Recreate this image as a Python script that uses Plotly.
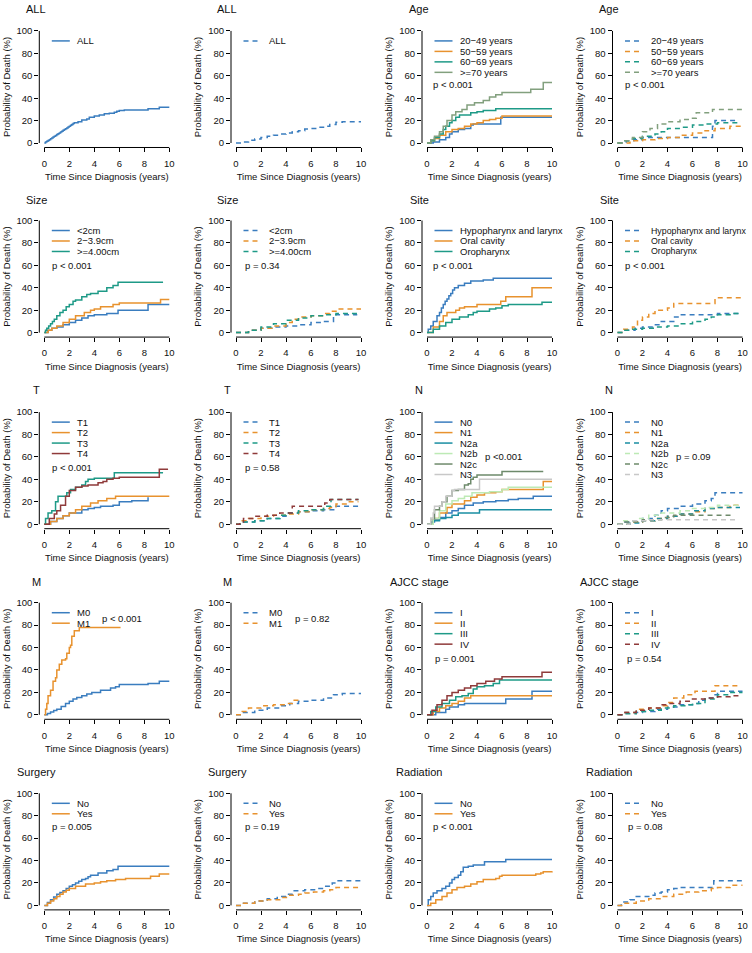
import plotly.graph_objects as go

# ---------------- data: (time in years, cumulative probability of death %) ----------------
all_cs = {"ALL": [(0,0),(0.1,0.8),(0.2,1.5),(0.3,2.3),(0.4,3),(0.5,3.8),(0.6,4.5),(0.7,5.3),(0.8,6),(0.9,6.8),(1.0,7.5),(1.1,8.3),(1.2,9),(1.3,9.8),(1.4,10.5),(1.5,11.3),(1.6,12),(1.7,12.8),(1.8,13.5),(1.9,14.3),(2.0,15),(2.1,15.8),(2.2,16.5),(2.3,17.3),(2.4,18),(2.7,19),(3.0,20.5),(3.4,21.5),(3.6,23),(4.0,24),(4.4,25),(4.8,26),(5.2,26.5),(5.6,27.5),(5.8,28.3),(6.0,29),(6.4,29.5),(8.3,30.5),(9.2,32),(10,32)]}
all_oc = {"ALL": [(0,0),(0.5,1),(1,2.5),(1.5,3.5),(2,5),(2.5,6),(3,7),(3.5,8),(4,9),(4.5,10),(5,11),(5.5,12.5),(6,13),(6.5,14),(7,15),(7.5,16.5),(8,18.5),(8.5,19),(10,19)]}

age_cs = {
    "20\u221249 years": [(0,0),(0.5,1),(1.0,3),(1.5,5),(1.8,8),(2.0,10),(2.5,12),(3.0,13),(3.5,16),(3.7,17),(5.9,23),(10,23)],
    "50\u221259 years": [(0,0),(0.3,2),(0.6,4),(1,7),(1.5,10),(2.0,12),(2.5,13),(3.0,15),(3.5,17),(4.0,18),(4.5,20),(5.0,21),(5.5,22),(6.0,24),(10,24)],
    "60\u221269 years": [(0,0),(0.3,2),(0.6,5),(1.0,8),(1.3,12),(1.5,15),(1.8,18),(2.0,20),(2.3,23),(2.6,25),(3.5,27),(4.0,28),(4.5,29),(5.5,30.5),(10,30.5)],
    ">=70 years": [(0,0),(0.3,3),(0.6,6),(1.0,10),(1.3,15),(1.6,20),(2.0,25),(2.3,28),(2.8,30),(3.2,34),(3.8,36),(4.5,38),(5.0,41),(5.5,43),(6.0,45),(8.3,48),(9.3,54),(10,54)],
}
age_oc = {
    "20\u221249 years": [(0,0),(0.7,2),(1.3,3),(2.0,5),(7.6,15),(7.8,20),(9.6,20)],
    "50\u221259 years": [(0,0),(1,2),(2,3),(3,4),(4,5),(5,7),(6,9),(7,11),(7.8,13),(9,15),(10,15)],
    "60\u221269 years": [(0,0),(0.5,2),(1.2,4),(2,6),(3,8),(3.5,10),(4,13),(5,14),(6,16),(7,17),(8,18),(9.7,18)],
    ">=70 years": [(0,0),(0.5,2),(1.2,5),(2,10),(2.6,13),(3.2,17),(4,19),(5,21),(6,22),(6.3,27),(7.6,30),(10,30)],
}

size_cs = {
    "<2cm": [(0,0),(0.3,2),(0.6,4),(1,5),(1.5,7),(2,9),(2.5,11),(3,13),(3.5,15),(4,16),(5,17),(5.9,20),(8.3,25),(10,25)],
    "2\u22123.9cm": [(0,0),(0.3,2),(0.6,4),(1,6),(1.5,9),(2,12),(2.5,15),(3.2,18),(3.7,20),(4,21),(4.5,23),(5.5,25),(6,26.5),(9.3,29.5),(10,29.5)],
    ">=4.00cm": [(0,0),(0.1,2),(0.2,4),(0.35,6),(0.5,8),(0.65,10),(0.8,12),(1,15),(1.25,18),(1.5,20),(1.75,23),(2,25),(2.3,28),(2.5,29),(3,32),(3.4,34),(3.7,35),(4.3,37),(5,40),(5.5,42),(5.9,45),(9.5,45)],
}
size_oc = {
    "<2cm": [(0,0),(1,2),(2,4),(3,5),(4,6),(5,7),(6,9),(7,10),(7.8,15),(8,16),(9.7,16)],
    "2\u22123.9cm": [(0,0),(1,2),(2,4),(3,6),(4,9),(4.5,12),(5,14),(6,15),(7,17),(7.5,19),(8,21),(10,21)],
    ">=4.00cm": [(0,0),(1,2),(2,5),(3,8),(4,11),(5,13),(6,15),(7,16),(8,17),(9.7,17)],
}

site_cs = {
    "Hypopharynx and larynx": [(0,0),(0.1,3),(0.3,6),(0.5,10),(0.8,15),(1,18),(1.15,22),(1.3,25),(1.45,28),(1.6,30),(1.75,33),(1.9,35),(2.05,38),(2.2,40),(2.5,42),(3,44),(3.5,46),(4.5,47),(5.3,48.5),(10,48.5)],
    "Oral cavity": [(0,0),(0.5,5),(1,10),(1.3,15),(1.6,18),(2.3,20),(2.6,22),(3,23),(4,25),(5.9,28),(6.3,32),(8.4,40),(10,40)],
    "Oropharynx": [(0,0),(0.5,3),(1,6),(1.5,9),(2,12),(2.6,14),(3.3,16),(3.7,18),(4,19),(5,21),(5.5,22),(6,24),(6.5,25),(9.2,27),(10,27)],
}
site_oc = {
    "Hypopharynx and larynx": [(0,0),(0.5,2),(1.4,4),(2,5),(2.8,7),(3.5,10),(4.5,14),(5,16),(8,17),(9.7,17)],
    "Oral cavity": [(0,0),(0.5,3),(1.2,5),(1.6,11),(2,14),(2.5,17),(3,20),(4,22),(4.5,26),(7.8,31),(10,31.5)],
    "Oropharynx": [(0,0),(0.5,2),(1,3),(2,4),(3,5),(4,6),(5,8),(6,10),(7,12),(7.5,14),(8,16),(9,17),(9.7,17)],
}

t_cs = {
    "T1": [(0,0),(0.5,2.5),(1,5),(1.5,7.5),(2,10),(3,13),(3.5,14),(4,15),(4.5,16),(5.5,17),(6,20),(7,21),(8.3,24)],
    "T2": [(0,0),(0.5,2.5),(1,5),(1.5,7.5),(2,10),(2.5,13),(3,16),(3.7,19),(4.3,21),(5,23),(5.7,25),(10,25)],
    "T3": [(0,0),(0.1,5),(0.3,10),(0.6,12),(0.9,20),(1.1,25),(1.8,28),(2.1,31),(2.5,33),(3,35),(3.3,38),(3.5,40),(4,41),(5.6,46),(9.5,46)],
    "T4": [(0,0),(0.4,5),(0.8,9),(1,12),(1.3,17),(1.7,25),(2,30),(2.5,33),(3,34),(3.5,35),(4.3,37),(4.7,38),(5,40),(5.5,41),(6,42),(9.2,49),(9.9,49)],
}
t_oc = {
    "T1": [(0,0),(0.6,2),(1.5,3),(2.5,5),(3.5,7),(4,10),(5,11),(6,12),(7,13),(8,16),(9.8,16)],
    "T2": [(0,0),(0.5,3),(1,5),(2,7),(3,8),(4,9),(5,11),(6,13),(7,14),(7.5,15),(8,18),(9,20),(9.8,20)],
    "T3": [(0,0),(0.6,2),(1.5,3),(2.5,5),(3.5,8),(4,10),(5,12),(6,13),(7,16),(7.6,22),(9.8,22)],
    "T4": [(0,0),(0.3,2),(0.6,5),(1.5,7),(2.5,8),(3.5,10),(4.5,16),(7.1,19),(7.5,22),(9.8,22)],
}

n_cs = {
    "N0": [(0,0),(0.3,2),(0.6,4),(1,6),(1.5,10),(2,12),(2.5,14),(3,17),(3.7,19),(4.5,20),(5.5,21),(6.5,22),(7.3,23),(8.5,25),(10,25)],
    "N1": [(0,0),(0.5,5),(1,10),(1.6,15),(2,18),(3,21),(3.5,24),(4,26),(4.6,28),(5.5,29),(6,31),(9.3,38),(10,38)],
    "N2a": [(0,0),(0.5,3),(1,5),(1.5,6),(2,8),(2.5,10),(4.2,13),(10,13)],
    "N2b": [(0,0),(0.5,5),(1,12),(1.5,18),(2,21),(2.5,23),(3,25),(3.6,28),(5,29),(6,31),(6.5,33),(10,33)],
    "N2c": [(0,0),(0.3,5),(0.6,13),(1,16),(1.2,20),(1.6,25),(2,30),(2.5,31),(3,35),(3.3,36),(3.5,40),(3.7,42),(4,44),(6,47),(9.3,47)],
    "N3": [(0,0),(0.3,5),(0.5,10),(0.6,16),(1.2,20),(1.5,25),(2,30),(2.2,31),(4.2,40),(10,40)],
}
n_oc = {
    "N0": [(0,0),(0.5,2),(1,3),(2,5),(3,8),(3.5,12),(4,14),(5,16),(6,18),(7,21),(7.5,23),(7.8,28),(10,28)],
    "N1": [(0,0),(1,2),(2,3),(3,5),(4,7),(5,9),(6,11),(7,14),(8,15),(9,17),(9.8,17)],
    "N2a": [(0,0),(1,1),(2,3),(3,5),(4,7),(5,9),(6,12),(7,14),(8,15),(9.8,15)],
    "N2b": [(0,0),(0.5,3),(1.5,5),(2.5,8),(3.5,10),(5,12),(6,14),(7,15),(8,17),(9.8,17)],
    "N2c": [(0,0),(0.5,2),(2,4),(3.5,6),(4.5,8),(9.3,8)],
    "N3": [(0,0),(1,3),(2.5,4),(9.5,4)],
}

m_cs = {
    "M0": [(0,0),(0.25,1.2),(0.5,2.5),(0.75,3.8),(1,5),(1.35,7.5),(1.7,10),(2,12),(2.3,14),(2.6,15.5),(3,17),(3.4,18.5),(3.8,20),(4.5,22),(5.3,24),(5.7,25),(6,27),(8.3,28),(9.2,30),(10,30)],
    "M1": [(0,0),(0.1,5),(0.2,10),(0.3,17),(0.5,22),(0.7,30),(0.9,33),(1,40),(1.2,45),(1.4,49),(1.7,50),(1.8,55),(2,60),(2.1,62),(2.2,70),(2.4,75),(2.8,78),(6.1,78)],
}
m_oc = {
    "M0": [(0,0),(0.5,2),(1.5,4),(2.5,6),(3.5,8),(4.3,10),(5,12),(6,13),(7,15),(7.8,18),(8.5,19),(10,19)],
    "M1": [(0,0),(0.5,3),(1,6),(2,8),(3,9),(4,10),(4.5,13),(5,13)],
}

ajcc_cs = {
    "I": [(0,0),(0.7,2),(1.5,5),(1.8,7),(2.5,9),(3,10),(6.3,14),(8.4,21),(10,21)],
    "II": [(0,0),(0.5,3),(1,6),(1.5,8),(2,10),(2.5,12),(3,15),(3.5,17),(10,17)],
    "III": [(0,0),(0.3,3),(0.7,7),(1.2,10),(1.8,13),(2.3,16),(2.8,17),(3.3,19),(3.7,23),(4,25),(4.6,26),(5.3,28),(5.8,31),(10,31)],
    "IV": [(0,0),(0.4,4),(0.8,9),(1.2,13),(1.6,17),(2,20),(2.5,22),(3,24),(3.5,26),(4,28),(4.7,30),(5.4,32),(6,34),(9.2,38),(10,38)],
}
ajcc_oc = {
    "I": [(0,0),(0.5,2),(2,3),(3,5),(4,7),(5,9),(6,10),(6.5,13),(7,15),(7.7,18),(8,21),(10,21)],
    "II": [(0,0),(0.5,2),(1.5,5),(2.5,6),(3.5,8),(4,11),(4.5,15),(5.3,18),(6.2,21),(7.8,26),(9.7,26)],
    "III": [(0,0),(0.5,1),(1.5,3),(2.5,4),(3.5,6),(4.5,8),(5.5,9),(6,10),(7,14),(8,18),(9,20),(10,20)],
    "IV": [(0,0),(0.5,2),(1.5,4),(2.5,6),(3.5,9),(4,10),(5,12),(6,14),(7,15),(8,16),(9,17),(9.7,17)],
}

surg_cs = {
    "No": [(0,0),(0.25,2.5),(0.5,5),(0.75,7.5),(1,10),(1.25,11.5),(1.5,13),(1.75,15),(2,17),(2.25,18.5),(2.5,20),(2.75,21.5),(3,23),(3.3,24),(3.5,25.5),(3.7,27),(4.3,29),(5,31),(5.5,32),(5.9,35),(10,35)],
    "Yes": [(0,0),(0.25,2),(0.5,4),(0.75,6),(1,8),(1.25,10),(1.5,12),(1.75,13.5),(2,15),(2.5,17),(3.3,19),(4,20),(4.5,21),(5,22),(5.7,23),(6.5,24),(8.5,26),(9.2,28),(10,28)],
}
surg_oc = {
    "No": [(0,0),(0.5,2),(1.5,4),(2.5,6),(3.3,8),(4,10),(4.5,13),(5.5,14),(6.5,15),(7,17),(7.7,20),(8,22),(10,22)],
    "Yes": [(0,0),(0.5,2),(1.5,4),(2.5,5),(3.5,7),(4.2,9),(5,10),(5.5,11),(6.2,12),(7,13),(7.5,14),(8,16),(10,16)],
}

rad_cs = {
    "No": [(0,0),(0.1,5),(0.3,8),(0.5,11),(0.8,13),(1.2,15),(1.5,17),(1.8,20),(2,23),(2.2,25),(2.5,27),(2.7,30),(2.9,34),(3.3,35),(3.7,36),(4.6,39),(6.3,41),(10,41)],
    "Yes": [(0,0),(0.3,2),(0.7,5),(1.2,8),(1.6,11),(2,14),(2.4,16),(3,17),(3.5,19),(4,21),(4.5,23),(5.5,24),(5.8,26),(6,27),(8.7,28),(9.1,29),(9.3,30),(10,30.5)],
}
rad_oc = {
    "No": [(0,0),(0.3,3),(1,5),(1.5,8),(2.5,9),(3,11),(3.5,12),(4,14),(4.5,15),(5,16),(7.7,22),(10,22.5)],
    "Yes": [(0,0),(0.5,2),(1.5,4),(2.5,6),(3.5,8),(4.5,10),(5.5,12),(6.5,13),(7.5,15),(8,16),(9,18),(10,18)],
}

# ---------------- styles ----------------
BLUE, ORANGE, TEAL = "#3A7DBF", "#E8922E", "#1E9A87"
GRAYGREEN, DARKRED = "#82A07E", "#8F3A3A"
N2A, N2B, N2C, N3C = "#1A8EA2", "#BDEAB5", "#6E8A6B", "#C8C8C8"

pal4 = [BLUE, ORANGE, TEAL, GRAYGREEN]
palT = [BLUE, ORANGE, TEAL, DARKRED]
palN = [BLUE, ORANGE, N2A, N2B, N2C, N3C]

# panel: (title, data, palette, dashed, p-text, p-offset px (dx, dy), legend font size)
panels = [
    ("ALL", all_cs, [BLUE], False, None, None, 9.5),
    ("ALL", all_oc, [BLUE], True, None, None, 9.5),
    ("Age", age_cs, pal4, False, "p < 0.001", (9, 58.5), 9.5),
    ("Age", age_oc, pal4, True, "p < 0.001", (10.5, 58.5), 9.5),
    ("Size", size_cs, [BLUE, ORANGE, TEAL], False, "p < 0.001", (10.7, 49.5), 9.5),
    ("Size", size_oc, [BLUE, ORANGE, TEAL], True, "p = 0.34", (12, 49.5), 9.5),
    ("Site", site_cs, [BLUE, ORANGE, TEAL], False, "p < 0.001", (9, 49.5), 9.5),
    ("Site", site_oc, [BLUE, ORANGE, TEAL], True, "p < 0.001", (10.5, 49.5), 8.8),
    ("T", t_cs, palT, False, "p < 0.001", (10.7, 60), 9.5),
    ("T", t_oc, palT, True, "p = 0.58", (12, 60), 9.5),
    ("N", n_cs, palN, False, "p <0.001", (61, 48.5), 9.5),
    ("N", n_oc, palN, True, "p = 0.09", (61.5, 48.5), 9.5),
    ("M", m_cs, [BLUE, ORANGE], False, "p < 0.001", (60.7, 20.5), 9.5),
    ("M", m_oc, [BLUE, ORANGE], True, "p = 0.82", (62, 20.5), 9.5),
    ("AJCC stage", ajcc_cs, palT, False, "p = 0.001", (11, 60.8), 9.5),
    ("AJCC stage", ajcc_oc, palT, True, "p = 0.54", (12.5, 60.8), 9.5),
    ("Surgery", surg_cs, [BLUE, ORANGE], False, "p = 0.005", (10.7, 38), 9.5),
    ("Surgery", surg_oc, [BLUE, ORANGE], True, "p = 0.19", (12, 38), 9.5),
    ("Radiation", rad_cs, [BLUE, ORANGE], False, "p < 0.001", (9, 38), 9.5),
    ("Radiation", rad_oc, [BLUE, ORANGE], True, "p = 0.08", (13.5, 38), 9.5),
]

W, H = 752, 953
COL_LEFT = [39.3, 231, 422, 612.5]
ROW_TOP = [25.5, 215.5, 407.5, 598.5, 789.5]
TITLE_CX = [36, 227, 419, 609]
TITLE_CY = [8, 199, 390, 582, 773]
PW, PH = 135, 121.3
XR, YR = [-0.4, 10.4], [-4, 104]
FONT = "Arial, Liberation Sans, sans-serif"
DASH = "5px,4px"

fig = go.Figure()
layout = dict(width=W, height=H, margin=dict(l=0, r=0, t=0, b=0),
              paper_bgcolor="white", plot_bgcolor="white", showlegend=False,
              font=dict(family=FONT, color="#111111", size=9.5))
shapes, annotations = [], []

def xf(v):
    return (v - XR[0]) / (XR[1] - XR[0])

def yf(v):
    return (v - YR[0]) / (YR[1] - YR[0])

for k, (title, data, pal, dashed, ptxt, poff, lfs) in enumerate(panels):
    r, c = divmod(k, 4)
    idx = "" if k == 0 else str(k + 1)
    xa, ya = "x" + idx, "y" + idx
    x0, y0 = COL_LEFT[c], ROW_TOP[r]
    layout["xaxis" + idx] = dict(
        domain=[x0 / W, (x0 + PW) / W], anchor=ya, range=XR,
        tickvals=[0, 2, 4, 6, 8, 10], ticks="outside", ticklen=4, tickwidth=1,
        tickcolor="#000", showline=False, showgrid=False, zeroline=False,
        ticklabelstandoff=3, tickfont=dict(size=9.5),
        title=dict(text="Time Since Diagnosis (years)", font=dict(size=9.5), standoff=5))
    layout["yaxis" + idx] = dict(
        domain=[1 - (y0 + PH) / H, 1 - y0 / H], anchor=xa, range=YR,
        tickvals=[0, 20, 40, 60, 80, 100], ticks="outside", ticklen=4, tickwidth=1,
        tickcolor="#000", showline=False, showgrid=False, zeroline=False,
        tickfont=dict(size=9.5),
        title=dict(text="Probability of Death (%)", font=dict(size=9.5), standoff=4))
    # R-style axis lines spanning first to last tick
    shapes.append(dict(type="line", xref=xa + " domain", yref=ya + " domain",
                       x0=xf(0), x1=xf(10), y0=0, y1=0, line=dict(color="#000", width=1)))
    shapes.append(dict(type="line", xref=xa + " domain", yref=ya + " domain",
                       x0=0, x1=0, y0=yf(0), y1=yf(100), line=dict(color="#000", width=1)))
    # panel title
    annotations.append(dict(text=title, x=TITLE_CX[c] / W, y=1 - TITLE_CY[r] / H,
                            xref="paper", yref="paper", xanchor="center", yanchor="middle",
                            showarrow=False, font=dict(size=11, color="#111")))
    for j, (name, pts) in enumerate(data.items()):
        col = pal[j]
        t = [p[0] for p in pts]
        v = [p[1] for p in pts]
        fig.add_trace(go.Scatter(
            x=t, y=v, mode="lines", name=name, xaxis=xa, yaxis=ya, showlegend=False,
            line=dict(shape="hv", color=col, width=1.5, dash=DASH if dashed else "solid"),
            hoverinfo="skip"))
        # legend entry (sample line + label)
        ly = 1 - (14.5 + 10.5 * j) / PH
        shapes.append(dict(type="line", xref=xa + " domain", yref=ya + " domain",
                           x0=12.5 / PW, x1=30.5 / PW, y0=ly, y1=ly,
                           line=dict(color=col, width=1.5, dash=DASH if dashed else "solid")))
        annotations.append(dict(text=name, xref=xa + " domain", yref=ya + " domain",
                                x=36 / PW, y=ly, xanchor="left", yanchor="middle",
                                showarrow=False, font=dict(size=lfs, color="#111")))
    if ptxt:
        annotations.append(dict(text=ptxt, xref=xa + " domain", yref=ya + " domain",
                                x=poff[0] / PW, y=1 - poff[1] / PH, xanchor="left",
                                yanchor="middle", showarrow=False,
                                font=dict(size=9.5, color="#111")))

layout["shapes"] = shapes
layout["annotations"] = annotations
fig.update_layout(**layout)
fig.write_html("out.html", config={"displayModeBar": False},
               post_script="document.body.style.margin='0px';")
